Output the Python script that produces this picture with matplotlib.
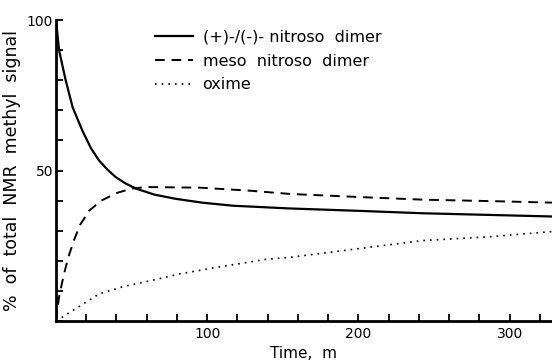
import numpy as np
import matplotlib.pyplot as plt

# values (time in minutes, % of signal)
t_racemic = [0, 2, 6.4, 11, 17.4, 23, 28.5, 34, 39.5, 46, 52.8, 65, 79, 97, 117, 154, 200, 242, 290, 330]
racemic = [100, 90, 80, 71, 63.3, 57.5, 53.3, 50.3, 47.8, 45.7, 44, 42, 40.6, 39.3, 38.3, 37.4, 36.6, 35.8, 35.2, 34.7]

t_meso = [0, 2, 5, 8, 12, 16, 22, 30, 40, 50, 60, 95, 128, 155, 200, 243, 290, 330]
meso = [0, 8, 15, 21, 27, 32, 36.7, 40, 42.5, 44, 44.5, 44.3, 43.3, 42.2, 41.2, 40.3, 39.8, 39.3]

t_oxime = [0, 10.6, 28.5, 45, 61.6, 81.5, 106, 139, 154, 198, 242, 287, 330]
oxime = [0, 3.3, 9, 11.5, 13.3, 15.6, 17.8, 20.5, 21.1, 23.9, 26.7, 28, 29.8]

labels = ['(+)-/(-)- nitroso  dimer', 'meso  nitroso  dimer', 'oxime']

fig = plt.figure(figsize=(5.52, 3.64), dpi=100)
ax = fig.add_axes([56 / 552, 43 / 364, 1 - 56 / 552, 301 / 364])

ax.plot(t_racemic, racemic, color='black', lw=1.6, label=labels[0])
ax.plot(t_meso, meso, color='black', lw=1.4, linestyle=(0, (5, 3.5)), label=labels[1])
ax.plot(t_oxime, oxime, color='black', lw=1.2, linestyle=(0, (1, 3)), label=labels[2])

ax.set_xlim(0, 328)
ax.set_ylim(0, 100)
xt = np.arange(20, 340, 20)
ax.set_xticks(xt)
ax.set_xticklabels(['' if v % 100 else str(v) for v in xt])
yt = np.arange(0, 110, 10)
ax.set_yticks(yt)
ax.set_yticklabels([str(v) if v in (50, 100) else '' for v in yt])

ax.tick_params(direction='in', length=5, width=1.3, labelsize=10, pad=4)
ax.tick_params(axis='y', pad=2)
for s in ['top', 'right']:
    ax.spines[s].set_visible(False)
for s in ['left', 'bottom']:
    ax.spines[s].set_linewidth(2)

ax.set_xlabel('Time,  m', fontsize=11, labelpad=4)
ax.set_ylabel('%  of  total  NMR  methyl  signal', fontsize=12.5, labelpad=4)

ax.legend(loc='upper left', bbox_to_anchor=(0.17, 1.015), frameon=False, fontsize=11.5,
          handlelength=2.4, handletextpad=0.6, labelspacing=0.55)

fig.savefig('out.png', dpi=100)
